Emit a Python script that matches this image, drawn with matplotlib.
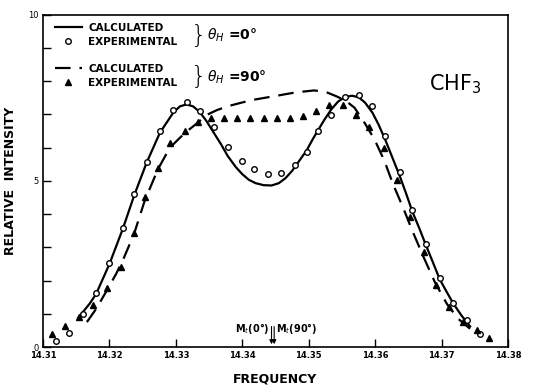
import numpy as np
import matplotlib.pyplot as plt
from matplotlib.lines import Line2D

# experimental points, theta_H = 0 deg (circles)
f_exp0 = [14.3119, 14.3139, 14.3160, 14.3180, 14.3200, 14.3220, 14.3237, 14.3256,
          14.3276, 14.3296, 14.3316, 14.3336, 14.3357, 14.3378, 14.3400, 14.3418,
          14.3438, 14.3459, 14.3479, 14.3497, 14.3514, 14.3534, 14.3554, 14.3576,
          14.3596, 14.3615, 14.3637, 14.3656, 14.3677, 14.3697, 14.3718, 14.3738,
          14.3758]
i_exp0 = [0.18, 0.43, 1.0, 1.64, 2.54, 3.57, 4.6, 5.56,
          6.49, 7.12, 7.37, 7.11, 6.61, 6.02, 5.6, 5.36,
          5.21, 5.25, 5.49, 5.88, 6.5, 6.97, 7.52, 7.59,
          7.24, 6.36, 5.26, 4.13, 3.09, 2.09, 1.32, 0.81,
          0.39]

# experimental points, theta_H = 90 deg (triangles)
f_exp90 = [14.3113, 14.3133, 14.3154, 14.3175, 14.3197, 14.3217, 14.3237, 14.3253,
           14.3273, 14.3291, 14.3314, 14.3333, 14.3353, 14.3373, 14.3392, 14.3412,
           14.3432, 14.3452, 14.3472, 14.3492, 14.3511, 14.3531, 14.3552, 14.3571,
           14.3591, 14.3613, 14.3633, 14.3653, 14.3674, 14.3692, 14.3712, 14.3733,
           14.3753, 14.3772]
i_exp90 = [0.39, 0.63, 0.89, 1.27, 1.77, 2.42, 3.42, 4.5,
           5.38, 6.13, 6.5, 6.77, 6.88, 6.88, 6.88, 6.88,
           6.88, 6.88, 6.88, 6.95, 7.11, 7.28, 7.27, 6.99,
           6.61, 6.0, 5.03, 3.92, 2.85, 1.87, 1.19, 0.76,
           0.51, 0.28]

# calculated curve, theta_H = 0 deg
f_calc0 = [14.3153, 14.3170, 14.3180, 14.3200, 14.3220, 14.3237, 14.3256, 14.3276,
           14.3296, 14.3306, 14.3316, 14.3326, 14.3336, 14.3346, 14.3357, 14.3368,
           14.3378, 14.3390, 14.3400, 14.3410, 14.3420, 14.3432, 14.3444, 14.3455,
           14.3465, 14.3475, 14.3485, 14.3497, 14.3506, 14.3514, 14.3524, 14.3534,
           14.3544, 14.3554, 14.3565, 14.3575, 14.3585, 14.3596, 14.3605, 14.3615,
           14.3627, 14.3637, 14.3647, 14.3656, 14.3667, 14.3677, 14.3687, 14.3697,
           14.3708, 14.3718, 14.3730, 14.3743]
i_calc0 = [0.88, 1.3, 1.6, 2.5, 3.55, 4.55, 5.55, 6.45,
           7.05, 7.24, 7.30, 7.24, 7.07, 6.8, 6.45, 6.1,
           5.75, 5.42, 5.2, 5.03, 4.93, 4.87, 4.86, 4.93,
           5.08, 5.3, 5.58, 5.92, 6.25, 6.52, 6.85, 7.15,
           7.38, 7.52, 7.56, 7.52, 7.35, 7.05, 6.7, 6.25,
           5.65, 5.15, 4.6, 4.08, 3.55, 3.04, 2.55, 2.05,
           1.65, 1.3, 0.95, 0.62]

# calculated curve, theta_H = 90 deg
f_calc90 = [14.3166, 14.3180, 14.3196, 14.3210, 14.3221, 14.3237, 14.3253, 14.3273,
            14.3291, 14.3314, 14.3333, 14.3346, 14.3362, 14.3379, 14.3414, 14.3449,
            14.3480, 14.3508, 14.3525, 14.3541, 14.3555, 14.3569, 14.3584, 14.3599,
            14.3614, 14.3627, 14.3642, 14.3656, 14.3672, 14.3690, 14.3708, 14.3725,
            14.3743]
i_calc90 = [0.75, 1.15, 1.7, 2.2, 2.65, 3.4, 4.4, 5.35,
            6.0, 6.45, 6.75, 6.98, 7.13, 7.25, 7.43, 7.55,
            7.66, 7.72, 7.68, 7.55, 7.42, 7.2, 6.75, 6.25,
            5.6, 4.9, 4.2, 3.5, 2.75, 1.95, 1.3, 0.85,
            0.55]

# M_t markers
mt_labels = ['M$_t$(0°)', 'M$_t$(90°)']
mt_freq = [14.3444, 14.3448]

xticks = [14.31, 14.32, 14.33, 14.34, 14.35, 14.36, 14.37, 14.38]
xtick_labels = ['14.31', '14.32', '14.33', '14.34', '14.35', '14.36', '14.37', '14.38']

plt.rcParams['font.family'] = ['DejaVu Sans']

fig = plt.figure(figsize=(5.45, 3.86), dpi=100)
ax = fig.add_axes([0.079, 0.101, 0.853, 0.861])

ax.plot(f_calc0, i_calc0, color='black', lw=1.6)
ax.plot(f_calc90, i_calc90, color='black', lw=1.6, dashes=(7, 4))
ax.plot(f_exp0, i_exp0, 'o', mfc='white', mec='black', ms=4, mew=1.0)
ax.plot(f_exp90, i_exp90, '^', color='black', ms=4)

# M_t arrows
for fq in mt_freq:
    ax.annotate('', xy=(fq, 0.0), xytext=(fq, 0.7),
                arrowprops=dict(arrowstyle='-|>', color='black', lw=0.8,
                                mutation_scale=6))
ax.text(mt_freq[0] - 0.0003, 0.55, mt_labels[0], ha='right', va='center',
        fontsize=7, fontweight='bold')
ax.text(mt_freq[1] + 0.0003, 0.55, mt_labels[1], ha='left', va='center',
        fontsize=7, fontweight='bold')

ax.set_xlim(14.31, 14.38)
ax.set_ylim(0, 10)
ax.set_xticks(xticks)
ax.set_xticklabels(xtick_labels, fontsize=6, fontweight='bold')
ax.set_yticks([0, 5, 10])
ax.set_yticklabels(['0', '5', '10'], fontsize=6)
ax.set_yticks(np.arange(0, 11, 1), minor=True)
ax.tick_params(axis='both', which='both', direction='in', length=6, width=1)
ax.tick_params(axis='x', which='major', pad=3)
ax.tick_params(axis='y', which='major', pad=3)
for s in ax.spines.values():
    s.set_linewidth(1.2)

ax.set_xlabel('FREQUENCY', fontsize=9, fontweight='bold', labelpad=9)
ax.set_ylabel('RELATIVE  INTENSITY', fontsize=9, fontweight='bold', labelpad=8)

ax.text(0.83, 0.79, 'CHF$_3$', transform=ax.transAxes, fontsize=15,
        ha='left', va='center')

# legends
h1 = [Line2D([], [], color='black', lw=1.6),
      Line2D([], [], marker='o', ls='', mfc='white', mec='black', ms=4)]
h2 = [Line2D([], [], color='black', lw=1.6, dashes=(7, 4)),
      Line2D([], [], marker='^', ls='', color='black', ms=4)]
leg_kw = dict(frameon=False, loc='upper left', handlelength=2.6,
              handletextpad=0.6, labelspacing=0.35, borderaxespad=0,
              borderpad=0, prop=dict(size=7.5, weight='bold'))
leg1 = ax.legend(h1, ['CALCULATED', 'EXPERIMENTAL'],
                 bbox_to_anchor=(0.025, 0.975), **leg_kw)
ax.add_artist(leg1)
ax.legend(h2, ['CALCULATED', 'EXPERIMENTAL'],
          bbox_to_anchor=(0.025, 0.852), **leg_kw)

for yb, lab in [(0.937, r'$\theta_H$ =0°'), (0.813, r'$\theta_H$ =90°')]:
    ax.text(0.318, yb, '}', transform=ax.transAxes, fontsize=18,
            ha='left', va='center', fontweight='light')
    ax.text(0.352, yb, lab, transform=ax.transAxes, fontsize=10,
            ha='left', va='center', fontweight='bold')

fig.savefig('out.png', dpi=100)
